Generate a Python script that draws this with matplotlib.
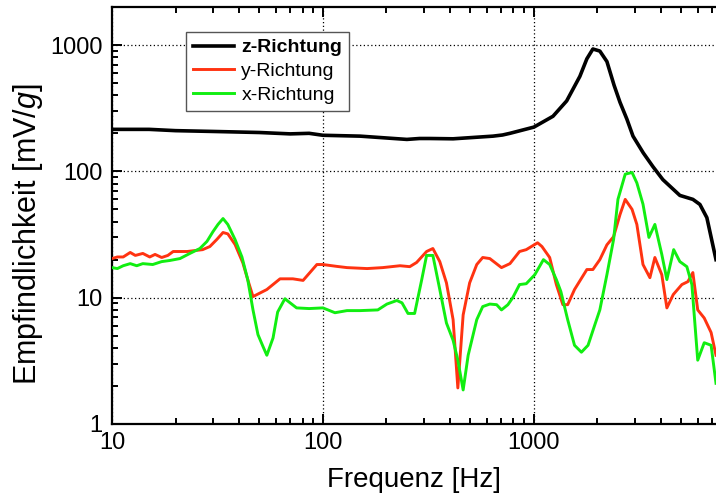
import matplotlib
matplotlib.use("Agg")
import matplotlib.pyplot as plt
from matplotlib.ticker import FixedLocator, FixedFormatter, LogLocator, NullFormatter

plt.rcParams['font.family'] = ['Liberation Sans', 'DejaVu Sans']
plt.rcParams['mathtext.fontset'] = 'custom'
plt.rcParams['mathtext.rm'] = 'Liberation Sans'
plt.rcParams['mathtext.it'] = 'Liberation Sans:italic'

# z-Richtung
freq_z = [10, 15, 20, 30, 50, 70, 86, 100, 150, 250, 287, 321, 414, 640, 710, 770, 1000,
          1232, 1430, 1652, 1783, 1904, 2054, 2219, 2400, 2560, 2760, 2950, 3300, 3667,
          4087, 4920, 5673, 6124, 6607, 7300]
sens_z = [215, 215, 210, 207, 203, 198, 200, 193, 190, 179, 182, 182, 181, 190, 194, 200, 224,
          273, 361, 565, 778, 930, 896, 740, 480, 352, 259, 190, 140, 109,
          86, 64.5, 60, 54.7, 43, 20]

# y-Richtung
freq_y = [10, 10.6, 11.3, 12.2, 12.9, 14.0, 15.1, 16.0, 17.2, 18.4, 19.5, 22.7, 26.9, 29.1,
          31.4, 33.6, 35.4, 38.3, 41.7, 44.0, 46.6, 54.2, 62.6, 72.0, 80.5, 93.6, 100, 116,
          130, 162, 192, 232, 258, 278, 310, 332, 358, 385, 414, 436, 462, 496, 536, 572,
          618, 702, 770, 855, 920, 1041, 1092, 1188, 1278, 1372, 1446, 1558, 1783, 1904,
          2054, 2219, 2387, 2560, 2710, 2920, 3077, 3290, 3548, 3746, 4040, 4270, 4580,
          5030, 5370, 5670, 5980, 6420, 6920, 7300]
sens_y = [20.4, 21, 21, 22.8, 21.6, 22.4, 21, 22, 20.8, 21.6, 23.2, 23.2, 24, 25.4,
          28.9, 32.8, 32, 26.4, 18.9, 13.9, 10.2, 11.6, 14.1, 14.1, 13.7, 18.3, 18.3, 17.7,
          17.3, 17.0, 17.3, 17.9, 17.6, 19, 23.2, 24.5, 19.3, 13.1, 6.7, 1.93, 7.3, 13.1, 18.3, 20.8,
          20.4, 17.3, 18.6, 23.2, 24, 27.2, 25.4, 20.8, 12.7, 8.8, 8.8, 11.6, 16.7, 16.7,
          20, 26.2, 30.4, 45.5, 60, 50, 38, 18.3, 14.4, 20.8, 15.2, 8.3, 10.6,
          12.7, 13.4, 15.8, 8, 6.9, 5.3, 3.5]

# x-Richtung
freq_x = [10, 10.6, 11.3, 12.2, 13.1, 14.0, 15.6, 17.2, 18.8, 21.0, 23.4, 26.1, 28.2, 30.1,
          31.8, 33.6, 35.4, 38.3, 41.3, 44, 46.6, 49.2, 52, 54.2, 58, 61, 66, 75, 86, 100,
          114, 130, 150, 182, 201, 224, 237, 253, 272, 294, 310, 332, 358, 385, 414, 436,
          462, 488, 536, 572, 618, 666, 702, 753, 794, 855, 920, 1010, 1110, 1188, 1278,
          1342, 1446, 1558, 1680, 1806, 1945, 2054, 2219, 2387, 2503, 2710, 2920, 3077,
          3290, 3510, 3746, 4040, 4270, 4600, 4920, 5310, 5610, 5980, 6420, 6920, 7300]
sens_x = [17.3, 17, 17.9, 18.6, 17.9, 18.6, 18.3, 19.3, 19.7, 20.4, 22.4, 24.5, 27.9, 33.3,
          38, 42.3, 38, 28.9, 21, 13.9, 8.0, 5.1, 4.1, 3.5, 4.8, 7.7, 9.8, 8.3, 8.2, 8.3,
          7.6, 7.9, 7.9, 8.0, 8.9, 9.5, 9.1, 7.5, 7.5, 13.9, 21.6, 21.6, 11.6, 6.3, 4.6, 3.2,
          1.86, 3.5, 6.7, 8.5, 8.9, 8.8, 8.0, 8.8, 10, 12.7, 12.9, 15.2, 20, 18.3, 13.9,
          11.2, 6.7, 4.2, 3.7, 4.2, 6.1, 8, 15.2, 28.9, 60, 95, 98, 81,
          55, 30, 38, 22, 13.9, 24, 19.3, 17.6, 12.7, 3.2, 4.4, 4.2, 2.1]

fig = plt.figure(figsize=(7.16, 4.97), dpi=100)
ax = fig.add_axes([112 / 716, 73 / 497, 1 - 112 / 716, 417 / 497])

ax.plot(freq_z, sens_z, color='black', lw=2.6, label='z-Richtung', zorder=3)
ax.plot(freq_y, sens_y, color='#ff3311', lw=2.1, label='y-Richtung', zorder=3)
ax.plot(freq_x, sens_x, color='#11ee11', lw=2.1, label='x-Richtung', zorder=3)

ax.set_xscale('log')
ax.set_yscale('log')
ax.set_xlim(10, 7300)
ax.set_ylim(1, 2000)

ax.xaxis.set_major_locator(FixedLocator([10, 100, 1000]))
ax.xaxis.set_major_formatter(FixedFormatter(['10', '100', '1000']))
ax.yaxis.set_major_locator(FixedLocator([1, 10, 100, 1000]))
ax.yaxis.set_major_formatter(FixedFormatter(['1', '10', '100', '1000']))
ax.xaxis.set_minor_locator(LogLocator(base=10, subs=range(2, 10)))
ax.yaxis.set_minor_locator(LogLocator(base=10, subs=range(2, 10)))
ax.xaxis.set_minor_formatter(NullFormatter())
ax.yaxis.set_minor_formatter(NullFormatter())

ax.tick_params(which='both', direction='in', top=True, right=False, width=1.4, labelsize=17)
ax.tick_params(which='major', length=7)
ax.tick_params(which='minor', length=4)
ax.tick_params(axis='y', pad=7)
ax.tick_params(axis='x', pad=6)

for side in ['left', 'bottom', 'top']:
    ax.spines[side].set_linewidth(1.6)
ax.spines['right'].set_visible(False)

ax.grid(True, which='major', linestyle=(0, (1, 2)), color='black', linewidth=0.9)

ax.set_xlabel('Frequenz [Hz]', fontsize=20, labelpad=9)
ax.set_ylabel('Empfindlichkeit [mV/$g$]', fontsize=22)
ax.yaxis.set_label_coords(-0.111, 0.456)

leg = ax.legend(loc='upper left', bbox_to_anchor=(0.1225, 0.94), borderaxespad=0,
                fontsize=14, fancybox=False, framealpha=1, edgecolor='#555555',
                handlelength=2.1, handletextpad=0.4, labelspacing=0.32, borderpad=0.35)
leg.get_frame().set_linewidth(1.0)
leg.get_texts()[0].set_fontweight('bold')

fig.savefig('out.png', dpi=100)
